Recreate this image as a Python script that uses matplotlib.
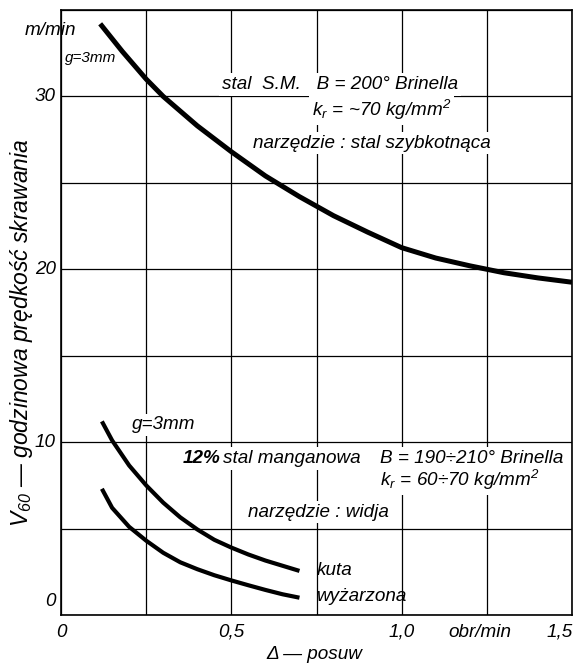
import matplotlib.pyplot as plt

feed_sm = [0.115, 0.18, 0.25, 0.3, 0.4, 0.5, 0.6, 0.7, 0.8, 0.9, 1.0, 1.1, 1.2, 1.3, 1.4, 1.5]
speed_sm = [34.2, 32.6, 31.0, 30.0, 28.3, 26.8, 25.4, 24.2, 23.1, 22.15, 21.25, 20.65, 20.2, 19.8, 19.5, 19.25]

feed_kuta = [0.12, 0.15, 0.2, 0.25, 0.3, 0.35, 0.4, 0.45, 0.5, 0.55, 0.6, 0.65, 0.7]
speed_kuta = [11.2, 10.1, 8.65, 7.5, 6.5, 5.65, 4.95, 4.35, 3.9, 3.5, 3.15, 2.85, 2.55]

feed_wyz = [0.12, 0.15, 0.2, 0.25, 0.3, 0.35, 0.4, 0.45, 0.5, 0.55, 0.6, 0.65, 0.7]
speed_wyz = [7.3, 6.2, 5.1, 4.3, 3.6, 3.05, 2.65, 2.3, 2.0, 1.72, 1.45, 1.2, 1.0]

x_ticks = [0, 0.5, 1.0, 1.5]
x_ticklabels = ["0", "0,5", "1,0", "1,5"]
y_ticks = [0, 10, 20, 30]

plt.rcParams['font.family'] = ['Liberation Sans', 'DejaVu Sans']
plt.rcParams['font.style'] = 'italic'
plt.rcParams['mathtext.fontset'] = 'custom'
plt.rcParams['mathtext.rm'] = 'Liberation Sans:italic'
plt.rcParams['mathtext.it'] = 'Liberation Sans:italic'
plt.rcParams['mathtext.default'] = 'rm'

fig = plt.figure(figsize=(5.74, 6.65), dpi=100)
ax = fig.add_axes([0.1063, 0.0752, 0.8902, 0.9098])

ax.plot(feed_sm, speed_sm, color='black', lw=3.6, solid_capstyle='butt', solid_joinstyle='round')
ax.plot(feed_kuta, speed_kuta, color='black', lw=3.0, solid_capstyle='butt', solid_joinstyle='round')
ax.plot(feed_wyz, speed_wyz, color='black', lw=3.0, solid_capstyle='butt', solid_joinstyle='round')

ax.set_xlim(0, 1.5)
ax.set_ylim(0, 35)
ax.set_xticks([i * 0.25 for i in range(7)])
ax.set_yticks([i * 5 for i in range(8)])
ax.set_axisbelow(True)
ax.grid(True, color='black', lw=0.9)
ax.set_xticklabels([])
ax.set_yticklabels([])
ax.tick_params(length=0)
for s in ax.spines.values():
    s.set_linewidth(1.2)

fs = 13.6
box = dict(facecolor='white', edgecolor='none', pad=2)

for v, lab in zip(x_ticks, x_ticklabels):
    ha = 'right' if v == 1.5 else 'center'
    ax.text(v + (0.003 if v == 1.5 else 0.0), -1.0, lab, ha=ha, va='center', fontsize=fs)
ax.text(1.23, -1.0, "obr/min", ha='center', va='center', fontsize=fs)
for v in y_ticks:
    ax.text(-0.015, v + (0.8 if v == 0 else 0), str(v), ha='right', va='center', fontsize=fs)
ax.text(-0.106, 33.8, "m/min", ha='left', va='center', fontsize=fs)

ax.text(0.745, -2.3, "Δ — posuw", ha='center', va='center', fontsize=fs)
fig.text(0.038, 0.5, "V$_{60}$ — godzinowa prędkość skrawania", rotation=90,
         ha='center', va='center', fontsize=16.5)

ax.text(0.012, 32.2, "g=3mm", ha='left', va='center', fontsize=11)
ax.text(0.473, 30.7, "stal  S.M.   B = 200° Brinella", ha='left', va='center', fontsize=fs, bbox=box)
ax.text(0.737, 29.2, "k$_r$ = ~70 kg/mm$^2$", ha='left', va='center', fontsize=fs, bbox=box)
ax.text(0.564, 27.3, "narzędzie : stal szybkotnąca", ha='left', va='center', fontsize=fs, bbox=box)

ax.text(0.208, 11.0, "g=3mm", ha='left', va='center', fontsize=fs, bbox=box)
ax.text(0.358, 9.05, "12%", ha='left', va='center', fontsize=fs, weight='bold', bbox=box)
ax.text(0.475, 9.05, "stal manganowa", ha='left', va='center', fontsize=fs, bbox=box)
ax.text(0.936, 9.05, "B = 190÷210° Brinella", ha='left', va='center', fontsize=fs, bbox=box)
ax.text(0.936, 7.8, "k$_r$ = 60÷70 kg/mm$^2$", ha='left', va='center', fontsize=fs, bbox=box)
ax.text(0.549, 5.95, "narzędzie : widja", ha='left', va='center', fontsize=fs, bbox=box)
ax.text(0.75, 2.6, "kuta", ha='left', va='center', fontsize=fs)
ax.text(0.75, 1.05, "wyżarzona", ha='left', va='center', fontsize=fs)

fig.savefig("out.png", dpi=100)
